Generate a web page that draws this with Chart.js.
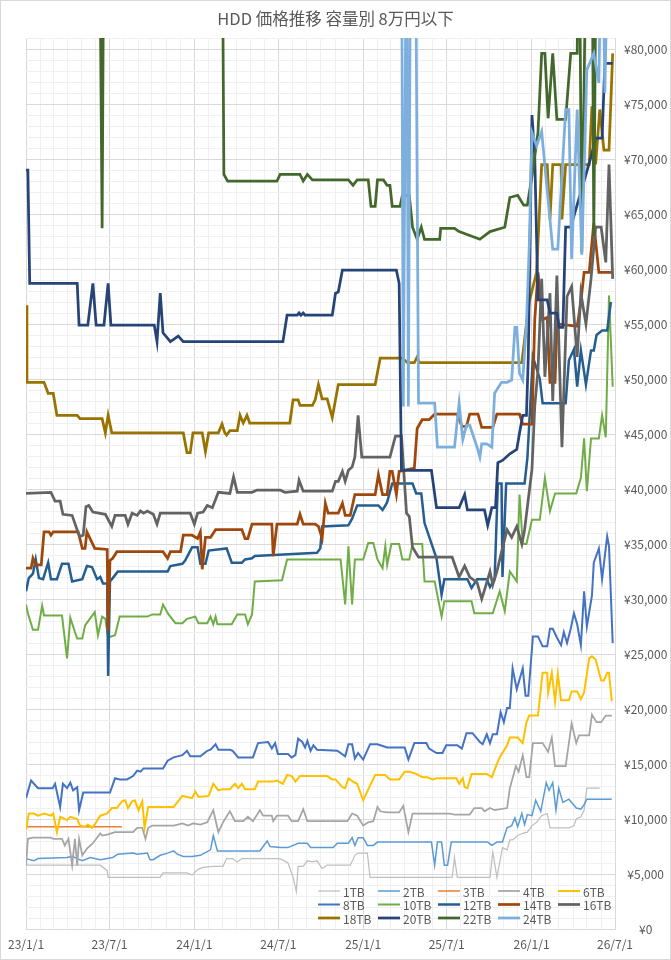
<!DOCTYPE html>
<html>
<head>
<meta charset="utf-8">
<script src="https://cdn.jsdelivr.net/npm/chart.js@4.4.1/dist/chart.umd.min.js"></script>
<style>
body{margin:0;background:#fff}
#wrap{width:671px;height:960px}
</style>
</head>
<body>
<div id="wrap"><canvas id="chart"></canvas></div>
<script>

/* DATA  [date, price in yen] */

const names=["1TB","2TB","3TB","4TB","6TB","8TB","10TB","12TB","14TB","16TB","18TB","20TB","22TB","24TB"]

const tb1=[["23/1/1",5800],["23/6/11",5800],["23/6/26",5300],["23/6/28",4700],["23/10/19",4700],["23/10/25",5100],["23/12/16",5100],["23/12/27",4900],["24/1/8",5400],["24/1/20",5600],["24/2/11",5700],["24/3/3",5700],["24/3/11",6400],["24/3/24",6400],["24/4/3",6100],["24/4/13",6400],["24/6/30",6400],["24/7/9",6300],["24/7/22",6000],["24/8/2",4700],["24/8/9",3400],["24/8/13",5700],["24/8/24",5700],["24/9/2",6200],["24/9/13",6100],["24/9/23",6200],["24/10/4",5500],["24/10/15",5800],["24/12/4",5800],["24/12/14",6700],["24/12/21",6900],["25/1/10",6900],["25/1/16",4700],["25/7/13",4700],["25/7/18",6500],["25/7/24",4700],["25/10/3",4700],["25/10/9",7000],["25/10/18",4700],["25/10/30",7400],["25/11/9",7200],["25/11/15",8100],["25/11/21",8100],["25/12/2",8500],["25/12/13",8700],["25/12/23",8800],["26/1/2",9400],["26/1/12",9700],["26/1/23",10300],["26/2/4",10500],["26/2/10",9200],["26/3/23",9200],["26/4/3",9400],["26/4/8",10000],["26/4/18",10200],["26/4/25",10800],["26/5/1",12800],["26/5/29",12800]]

const tb2=[["23/1/1",6400],["23/1/18",6200],["23/1/27",6400],["23/3/31",6500],["23/4/11",6600],["23/4/22",6400],["23/5/3",6200],["23/5/20",6500],["23/6/11",6300],["23/7/8",6500],["23/7/19",6800],["23/8/21",6900],["23/8/30",6800],["23/9/21",6900],["23/9/27",6300],["23/10/4",6300],["23/10/19",6700],["23/11/4",6900],["23/11/17",7100],["23/11/25",6800],["23/12/8",6600],["23/12/27",6600],["24/1/14",6700],["24/2/5",7200],["24/2/11",8500],["24/2/20",7100],["24/5/22",7100],["24/5/29",7500],["24/6/7",8000],["24/6/13",7500],["24/7/5",7400],["24/7/22",7400],["24/8/13",7800],["24/9/2",7800],["24/9/9",7400],["24/10/28",7400],["24/11/6",7800],["24/11/30",7800],["24/12/8",8300],["24/12/14",7600],["24/12/21",8300],["25/1/1",8300],["25/1/10",7600],["25/1/23",7600],["25/2/1",7900],["25/5/29",7900],["25/6/5",5800],["25/6/11",7900],["25/6/20",7900],["25/6/26",5800],["25/7/3",5800],["25/7/11",7900],["25/9/28",7900],["25/10/7",7600],["25/10/18",7900],["25/10/30",7900],["25/11/9",9200],["25/11/19",9400],["25/11/26",10100],["25/12/2",9300],["25/12/11",10500],["25/12/17",9500],["25/12/23",10400],["26/1/2",10300],["26/1/10",11700],["26/1/21",10700],["26/2/2",13300],["26/2/8",12600],["26/2/16",13300],["26/2/23",10800],["26/3/1",12800],["26/3/10",11500],["26/3/23",11800],["26/4/8",11000],["26/4/18",10900],["26/4/25",11300],["26/5/1",11800],["26/6/24",11800]]

const tb3=[["23/1/1",9300],["23/7/28",9300]]

const tb4=[["23/1/1",5800],["23/1/5",8200],["23/1/16",8300],["23/2/24",8300],["23/3/1",8200],["23/3/20",8200],["23/3/26",7600],["23/4/3",8200],["23/4/11",5800],["23/4/17",8200],["23/4/22",5800],["23/4/26",8200],["23/5/3",6700],["23/5/13",7300],["23/5/26",7800],["23/6/11",8700],["23/6/15",8500],["23/6/28",8600],["23/7/13",8800],["23/8/21",8800],["23/8/30",9200],["23/9/10",9200],["23/9/17",8200],["23/9/23",9200],["23/10/2",9400],["23/11/17",9400],["23/12/6",9600],["23/12/18",9400],["23/12/29",9600],["24/1/14",9500],["24/1/29",9700],["24/2/11",10800],["24/2/22",8800],["24/3/3",9700],["24/3/18",10700],["24/3/29",9800],["24/4/16",9800],["24/4/26",10200],["24/5/7",9800],["24/5/22",10800],["24/5/29",10300],["24/6/17",10300],["24/6/20",9800],["24/6/28",10300],["24/7/22",10300],["24/7/30",9800],["24/8/13",9800],["24/8/24",10900],["24/9/2",9800],["24/11/28",9800],["24/12/8",10500],["24/12/19",10300],["25/1/1",9400],["25/1/12",9700],["25/1/23",9800],["25/2/1",11100],["25/2/7",10700],["25/2/22",10600],["25/3/20",10600],["25/3/29",11200],["25/4/9",8800],["25/4/18",10500],["25/7/7",10500],["25/7/18",10400],["25/8/20",10400],["25/8/30",11000],["25/9/15",11000],["25/9/21",10700],["25/10/3",11000],["25/10/13",10800],["25/11/9",11000],["25/11/15",12800],["25/11/28",14800],["25/12/4",14300],["25/12/13",15800],["25/12/21",13800],["25/12/27",13800],["26/1/4",16900],["26/1/25",16900],["26/2/6",16100],["26/2/14",17400],["26/2/21",14800],["26/3/16",14800],["26/3/29",18700],["26/4/8",16900],["26/4/14",17600],["26/5/6",17600],["26/5/12",19500],["26/5/22",18800],["26/6/1",18800],["26/6/11",19400],["26/6/24",19400]]

const tb6=[["23/1/1",9000],["23/1/7",10500],["23/1/18",10500],["23/1/27",10300],["23/2/9",10500],["23/2/24",10300],["23/3/1",10500],["23/3/9",8800],["23/3/16",10200],["23/3/31",9900],["23/4/7",10200],["23/4/22",10000],["23/4/28",9400],["23/5/9",9300],["23/5/15",9500],["23/5/24",9200],["23/5/30",9500],["23/6/11",10300],["23/6/26",10500],["23/7/6",11000],["23/7/17",11000],["23/7/28",11600],["23/8/4",11700],["23/8/10",11000],["23/8/19",11600],["23/8/25",11700],["23/9/2",10800],["23/9/10",11600],["23/9/15",9200],["23/9/23",11100],["23/11/17",11100],["23/12/6",12100],["23/12/16",12000],["23/12/27",11900],["24/1/3",12500],["24/1/10",12000],["24/2/1",12100],["24/2/11",13200],["24/2/22",12600],["24/3/1",12700],["24/3/18",12700],["24/3/29",13200],["24/4/5",12800],["24/4/13",13200],["24/4/20",12700],["24/5/11",12700],["24/5/18",13400],["24/6/20",13400],["24/6/28",13500],["24/7/11",13200],["24/7/20",14000],["24/7/30",13900],["24/8/7",13400],["24/8/17",13900],["24/10/15",13900],["24/10/26",13600],["24/11/2",13600],["24/11/17",12900],["24/11/23",12800],["24/11/30",13700],["24/12/10",13400],["24/12/19",13200],["24/12/25",12500],["25/1/1",11700],["25/1/12",12700],["25/1/27",14000],["25/2/18",14000],["25/2/28",13600],["25/3/20",13600],["25/4/1",14300],["25/4/11",14300],["25/4/26",14100],["25/5/9",13800],["25/5/20",13800],["25/6/1",13600],["25/6/9",13700],["25/7/22",13700],["25/7/28",13200],["25/8/5",13700],["25/8/9",12900],["25/8/15",12800],["25/8/24",14100],["25/9/26",14100],["25/10/7",13800],["25/10/15",14700],["25/10/24",15600],["25/11/9",16700],["25/11/15",17400],["25/12/2",17400],["25/12/13",16900],["25/12/21",18800],["25/12/27",19400],["26/1/15",19400],["26/1/25",23300],["26/2/4",23300],["26/2/6",21500],["26/2/14",23300],["26/2/21",20700],["26/2/27",23200],["26/3/6",20800],["26/3/23",20800],["26/3/29",21600],["26/4/10",21600],["26/4/18",20900],["26/4/25",21500],["26/5/6",24600],["26/5/12",24800],["26/5/20",24500],["26/6/1",22600],["26/6/7",22600],["26/6/14",23300],["26/6/18",23300],["26/6/24",20700]]

const tb8=[["23/1/1",11900],["23/1/12",13500],["23/1/27",12800],["23/2/28",12800],["23/3/5",13200],["23/3/16",11100],["23/3/22",13200],["23/3/31",12800],["23/4/7",13300],["23/4/13",12600],["23/4/22",12900],["23/4/26",10800],["23/5/5",12400],["23/7/2",12400],["23/7/13",13700],["23/7/23",13600],["23/8/8",13600],["23/8/21",13900],["23/8/30",14400],["23/9/6",14300],["23/9/13",14600],["23/10/25",14600],["23/11/4",15300],["23/11/17",15600],["23/12/6",15800],["23/12/16",16200],["23/12/23",15700],["24/1/14",15700],["24/1/29",16200],["24/2/5",16300],["24/2/16",16800],["24/2/22",16300],["24/3/18",16300],["24/3/24",16200],["24/4/5",15600],["24/5/7",15600],["24/5/18",16900],["24/6/9",17000],["24/6/17",16400],["24/6/24",16900],["24/6/30",15900],["24/7/22",15900],["24/7/30",15600],["24/8/7",15800],["24/8/13",17300],["24/8/22",17000],["24/8/28",16500],["24/9/2",17100],["24/9/9",16200],["24/9/15",16700],["24/9/23",16300],["24/11/6",16200],["24/11/23",15700],["24/11/30",16800],["24/12/8",16800],["24/12/14",15500],["24/12/21",16000],["25/1/1",15400],["25/1/16",16800],["25/2/1",16800],["25/2/22",16500],["25/4/1",16500],["25/4/9",15400],["25/4/22",16900],["25/5/18",16900],["25/5/24",16400],["25/6/9",16000],["25/6/22",16000],["25/6/30",16700],["25/7/24",16700],["25/8/3",16400],["25/8/13",17800],["25/8/26",17800],["25/9/11",17000],["25/9/17",16800],["25/9/26",17700],["25/10/3",16900],["25/10/9",17700],["25/10/18",17700],["25/10/26",19700],["25/11/2",18800],["25/11/9",20100],["25/11/15",20100],["25/11/21",23700],["25/11/30",21800],["25/12/13",23700],["25/12/19",21200],["25/12/25",21200],["26/1/4",26600],["26/1/15",26600],["26/1/25",25700],["26/2/4",25700],["26/2/10",27300],["26/2/16",27300],["26/2/25",26500],["26/3/6",25800],["26/3/12",27000],["26/3/19",26000],["26/3/27",27300],["26/4/3",28700],["26/4/10",27700],["26/4/18",25800],["26/4/25",30700],["26/5/1",27500],["26/5/12",30300],["26/5/16",33300],["26/5/27",34600],["26/6/3",31800],["26/6/14",35700],["26/6/18",34800],["26/6/26",26000]]

const tb10=[["23/1/1",29500],["23/1/5",28700],["23/1/16",27200],["23/1/27",27200],["23/2/5",29400],["23/2/9",28500],["23/3/20",28500],["23/3/31",24600],["23/4/7",28300],["23/4/17",27000],["23/4/22",26400],["23/5/3",26400],["23/5/9",27600],["23/5/30",28800],["23/6/6",26700],["23/6/15",28400],["23/6/22",28200],["23/6/28",26500],["23/7/13",26700],["23/7/23",28400],["23/9/21",28400],["23/10/2",28600],["23/10/19",28600],["23/10/25",29500],["23/11/6",28600],["23/11/21",27800],["23/12/6",27800],["23/12/16",28200],["24/1/3",28400],["24/1/10",27800],["24/1/29",27800],["24/2/5",28400],["24/2/11",27700],["24/2/16",28400],["24/2/20",27700],["24/3/22",27700],["24/4/3",28600],["24/4/20",28600],["24/4/26",27700],["24/5/5",28600],["24/5/11",31600],["24/7/9",31700],["24/7/20",33600],["24/11/13",33600],["24/11/23",29500],["24/11/30",34800],["24/12/8",29500],["24/12/14",33600],["25/1/1",33600],["25/1/12",35100],["25/1/23",35100],["25/2/1",33600],["25/2/12",32800],["25/2/18",34800],["25/2/22",33100],["25/3/3",35000],["25/3/20",35000],["25/3/27",33600],["25/4/11",33600],["25/4/18",35000],["25/5/9",35000],["25/5/14",31600],["25/6/5",31600],["25/6/20",28400],["25/6/26",29800],["25/8/24",29800],["25/8/30",28700],["25/10/9",28700],["25/10/24",30700],["25/11/4",28900],["25/11/15",32500],["25/11/30",31600],["25/12/6",39500],["25/12/13",35000],["25/12/21",35000],["26/1/2",37200],["26/1/19",37200],["26/1/30",41000],["26/2/10",38000],["26/2/21",39600],["26/4/8",39600],["26/4/18",41000],["26/4/25",44600],["26/5/1",39800],["26/5/10",44600],["26/5/27",44600],["26/6/3",46700],["26/6/11",44700],["26/6/18",57600],["26/6/26",49300]]

const tb12=[["23/1/1",30700],["23/1/7",31900],["23/1/16",32300],["23/1/22",33600],["23/1/29",31900],["23/2/7",31800],["23/2/18",33300],["23/2/24",31800],["23/3/9",31800],["23/3/20",33200],["23/4/3",33200],["23/4/11",31600],["23/5/3",31800],["23/5/13",33000],["23/5/24",32900],["23/6/4",31800],["23/6/11",32000],["23/6/17",31400],["23/6/26",31400],["23/6/28",23000],["23/7/2",31600],["23/7/8",31900],["23/7/19",32500],["23/11/4",32500],["23/11/10",33000],["23/12/6",33200],["23/12/12",33500],["23/12/27",34700],["24/1/8",34700],["24/1/14",33200],["24/1/25",33200],["24/2/1",34400],["24/3/11",34600],["24/3/22",33300],["24/4/13",33300],["24/4/20",33600],["24/5/5",33700],["24/5/11",33900],["24/9/23",34200],["24/9/30",34600],["24/10/4",36600],["24/11/30",36700],["24/12/8",37300],["24/12/19",38500],["25/2/3",38500],["25/2/12",38100],["25/2/18",38500],["25/2/22",38800],["25/3/5",40500],["25/4/18",40500],["25/4/26",39600],["25/5/7",39600],["25/5/14",36900],["25/6/9",33700],["25/6/20",30400],["25/6/26",31800],["25/8/15",31800],["25/8/24",31000],["25/9/5",31800],["25/9/26",31800],["25/10/3",31100],["25/10/13",31800],["25/10/20",40500],["25/10/28",40500],["25/10/30",32000],["25/11/7",40500],["25/12/17",40500],["25/12/23",42800],["26/1/4",52000],["26/1/19",50000],["26/1/25",47800],["26/3/16",47800],["26/3/23",51700],["26/4/3",52700],["26/4/10",49300],["26/4/18",52600],["26/4/29",49500],["26/5/10",52600],["26/5/16",52600],["26/5/22",54000],["26/6/3",54400],["26/6/14",54400],["26/6/22",57000]]

const tb14=[["23/1/1",32800],["23/1/12",32800],["23/1/16",33700],["23/1/22",33100],["23/2/3",33100],["23/2/9",36100],["23/2/20",36100],["23/2/24",35800],["23/3/1",36100],["23/4/24",36100],["23/5/3",34600],["23/5/9",34600],["23/5/13",36100],["23/5/30",34600],["23/6/26",34500],["23/6/28",27100],["23/7/2",33500],["23/7/8",33700],["23/7/17",34300],["23/10/25",34300],["23/11/4",33700],["23/11/10",34300],["23/12/2",34300],["23/12/8",35800],["23/12/27",35800],["24/1/8",35500],["24/1/14",36100],["24/1/18",32700],["24/1/25",35600],["24/2/5",35600],["24/2/16",36300],["24/4/13",36300],["24/4/20",35500],["24/4/26",35500],["24/5/5",36800],["24/6/17",36800],["24/6/20",33900],["24/6/28",36800],["24/8/11",36800],["24/8/17",37700],["24/8/24",36800],["24/9/19",36800],["24/9/26",36600],["24/10/4",35500],["24/10/11",38700],["24/10/17",37800],["24/11/8",37800],["24/11/17",38700],["24/11/23",37600],["24/12/4",37600],["24/12/14",39500],["25/1/27",39500],["25/2/3",41300],["25/2/12",39500],["25/2/22",39500],["25/2/28",41600],["25/3/5",41600],["25/3/14",39500],["25/3/20",41600],["25/4/22",41900],["25/4/28",45500],["25/5/9",46300],["25/5/24",46300],["25/6/5",46800],["25/7/24",46800],["25/8/3",45700],["25/8/13",45700],["25/8/20",46800],["25/9/7",46800],["25/9/15",45600],["25/10/9",45600],["25/10/18",46800],["25/12/6",46800],["25/12/13",45900],["26/1/2",45900],["26/1/8",55400],["26/1/15",59700],["26/1/25",55400],["26/2/4",55600],["26/2/10",49700],["26/2/21",49700],["26/2/25",55000],["26/4/10",54800],["26/4/18",57000],["26/4/25",59700],["26/5/6",59700],["26/5/16",64200],["26/5/27",59700],["26/6/26",59700]]

const tb16=[["23/1/1",39600],["23/2/24",39700],["23/3/5",38900],["23/3/16",38900],["23/3/22",37700],["23/4/11",37600],["23/4/24",36000],["23/4/28",35700],["23/5/5",35800],["23/5/11",38400],["23/5/17",38500],["23/5/26",37900],["23/6/22",37700],["23/7/6",36600],["23/7/13",37600],["23/8/4",37600],["23/8/10",36800],["23/8/19",37800],["23/8/30",37600],["23/9/6",38000],["23/9/13",37800],["23/9/21",38000],["23/10/4",37700],["23/10/12",36800],["23/10/19",37800],["23/12/23",37800],["24/1/1",36800],["24/1/8",37800],["24/1/20",37900],["24/1/29",38500],["24/2/9",38300],["24/2/22",39700],["24/3/18",39600],["24/3/26",41100],["24/4/3",39700],["24/5/5",39700],["24/5/16",39900],["24/7/5",39900],["24/7/15",39700],["24/8/11",39800],["24/8/15",40800],["24/8/24",39800],["24/10/26",39800],["24/11/2",40700],["24/11/8",40700],["24/11/17",41600],["24/11/23",40700],["24/11/30",41700],["24/12/8",42000],["24/12/14",42900],["24/12/21",46700],["24/12/29",42900],["25/2/28",42900],["25/3/12",44800],["25/3/25",44800],["25/4/5",37800],["25/4/11",37500],["25/4/18",34700],["25/5/1",33800],["25/7/13",33800],["25/7/28",32000],["25/8/9",33000],["25/8/20",32000],["25/9/5",31500],["25/9/15",30000],["25/9/21",30800],["25/10/3",32500],["25/10/9",31300],["25/10/18",32500],["25/10/28",34300],["25/11/9",36300],["25/11/19",35600],["25/11/30",36600],["25/12/11",35000],["25/12/17",36300],["26/1/2",41800],["26/1/8",47500],["26/1/15",50800],["26/1/23",59100],["26/1/30",50200],["26/2/10",57800],["26/2/16",48000],["26/2/25",59400],["26/3/8",43800],["26/3/19",57500],["26/3/29",58400],["26/4/10",52000],["26/4/18",57800],["26/4/29",55000],["26/5/10",59100],["26/5/20",63800],["26/6/1",63800],["26/6/11",60600],["26/6/18",69500],["26/6/26",59100]]

const tb18=[["23/1/1",56700],["23/1/3",49700],["23/2/9",49700],["23/2/18",48700],["23/3/1",48700],["23/3/9",46700],["23/4/22",46700],["23/4/28",46400],["23/6/15",46400],["23/6/22",45100],["23/6/28",46700],["23/7/6",45100],["23/12/8",45100],["23/12/16",43300],["23/12/23",43300],["23/12/29",45100],["24/1/18",45100],["24/1/25",43400],["24/2/1",45100],["24/2/22",45100],["24/3/1",45900],["24/3/7",45100],["24/3/11",44900],["24/3/18",45300],["24/4/3",45300],["24/4/9",46700],["24/4/16",46000],["24/4/24",46700],["24/4/30",46000],["24/7/26",46000],["24/8/2",48100],["24/8/13",48100],["24/8/17",47600],["24/9/13",47600],["24/9/19",48100],["24/9/26",49500],["24/10/4",48200],["24/10/15",48200],["24/10/26",46500],["24/11/8",49500],["25/1/27",49500],["25/2/7",51900],["25/3/27",51900],["25/4/7",51500],["25/4/22",51500],["25/4/28",52000],["25/5/3",51500],["25/12/11",51500],["25/12/17",53600],["25/12/27",57000],["26/1/12",59700],["26/1/23",69500],["26/2/4",69500],["26/2/10",64500],["26/2/16",69500],["26/3/6",69500],["26/3/8",64500],["26/3/16",69500],["26/5/6",69500],["26/5/12",74800],["26/5/20",69500],["26/5/29",74500],["26/6/7",70800],["26/6/18",70800],["26/6/26",79600]]

const tb20=[["23/1/1",69000],["23/1/5",69000],["23/1/9",58700],["23/4/22",58700],["23/4/26",54900],["23/5/15",54900],["23/5/26",58700],["23/6/2",54900],["23/6/19",54900],["23/6/28",58700],["23/7/4",54900],["23/10/6",54900],["23/10/12",53400],["23/10/19",57800],["23/10/25",54200],["23/11/10",53400],["23/11/27",53900],["23/12/8",53400],["24/7/11",53400],["24/7/20",55800],["24/8/11",55800],["24/8/15",56000],["24/8/19",55800],["24/8/24",56000],["24/8/28",55800],["24/10/26",55800],["24/11/2",57800],["24/11/8",57900],["24/11/17",59900],["25/3/14",59900],["25/3/20",58700],["25/3/25",41700],["25/5/29",41700],["25/6/9",38300],["25/7/28",38300],["25/8/9",39500],["25/8/15",38100],["25/9/21",38100],["25/9/28",36700],["25/10/7",38300],["25/10/15",38300],["25/10/20",42400],["25/10/30",42600],["25/11/15",43200],["25/11/30",43600],["25/12/6",45100],["25/12/13",46700],["25/12/21",46700],["25/12/25",52000],["26/1/2",74000],["26/1/8",70200],["26/1/15",57200],["26/2/4",57200],["26/2/10",56000],["26/2/25",56000],["26/3/2",54700],["26/3/10",54700],["26/3/16",63800],["26/3/27",63800],["26/4/18",67000],["26/5/10",70200],["26/5/20",71900],["26/6/3",71900],["26/6/9",78700],["26/6/26",78700]]

const tb22=[["23/6/4",95000],["23/6/9",95000],["23/6/15",63700],["23/6/19",95000],["24/3/1",95000],["24/3/5",68600],["24/3/13",68000],["24/6/28",68000],["24/7/5",68600],["24/8/17",68600],["24/8/24",68000],["24/9/2",68600],["24/9/13",68100],["24/11/30",68100],["24/12/10",67600],["24/12/19",68100],["25/1/12",68100],["25/1/18",65700],["25/1/27",65700],["25/2/1",68100],["25/2/14",68100],["25/2/22",67600],["25/2/28",67600],["25/3/5",65700],["25/3/22",65700],["25/3/27",66700],["25/4/11",66700],["25/4/18",63800],["25/4/28",62700],["25/5/7",63800],["25/5/14",62700],["25/6/16",62700],["25/6/18",63700],["25/7/18",63700],["25/7/28",63400],["25/9/11",62700],["25/10/3",63400],["25/11/4",63800],["25/11/15",66500],["25/12/2",66700],["25/12/15",65800],["25/12/23",65800],["26/1/4",69000],["26/1/15",72400],["26/1/23",79600],["26/1/30",79600],["26/2/6",73700],["26/2/16",79600],["26/2/25",73600],["26/3/16",73600],["26/3/27",79600],["26/4/10",79600],["26/4/14",95000],["26/4/20",61500],["26/5/1",95000],["26/5/12",95000],["26/5/16",63000],["26/5/22",95000],["26/6/26",95000]]

const tb24=[["25/3/25",95000],["25/3/29",47500],["25/4/5",95000],["25/4/9",47500],["25/4/14",95000],["25/4/24",95000],["25/5/1",47800],["25/6/5",47800],["25/6/11",43800],["25/7/18",43800],["25/7/28",47800],["25/8/5",44500],["25/8/13",45800],["25/8/20",45800],["25/9/5",43800],["25/9/11",42900],["25/9/15",44100],["25/9/26",44100],["25/10/7",43800],["25/10/13",48700],["25/10/28",49700],["25/11/9",49700],["25/11/19",49900],["25/11/26",54700],["25/11/30",54700],["25/12/6",50500],["25/12/13",49900],["25/12/21",55000],["25/12/27",62000],["26/1/2",72400],["26/1/12",71200],["26/1/23",72500],["26/2/10",64500],["26/2/16",61800],["26/2/27",61800],["26/3/16",74500],["26/3/23",74500],["26/3/29",60900],["26/4/10",74500],["26/4/20",61300],["26/5/1",78100],["26/5/16",79600],["26/5/27",76900],["26/6/3",95000],["26/6/9",76000],["26/6/18",95000],["26/6/26",95000]]

const series=[tb1,tb2,tb3,tb4,tb6,tb8,tb10,tb12,tb14,tb16,tb18,tb20,tb22,tb24]

const colors=["#BFBFBF","#5B9BD5","#ED7D31","#A5A5A5","#FFC000","#4472C4","#70AD47","#255E91","#9E480E","#636363","#997300","#264478","#43682B","#7CAFDD"]
const widths=[1.25,1.5,1.5,1.75,2,2,2,2.5,2.75,2.75,2.75,2.75,2.75,2.75]

const title="HDD 価格推移 容量別 8万円以下"


/* HELPERS */

const start=Date.UTC(2023,0,1)

function day(s){
let p=s.split("/").map(Number)
return (Date.UTC(2000+p[0],p[1]-1,p[2])-start)/86400000
}

let monthDays=[]
for(let k=0;k<=42;k++){
monthDays.push((Date.UTC(2023,k,1)-start)/86400000)
}

function monthLabel(k){
return (23+Math.floor(k/12))+"/"+(k%12+1)+"/1"
}

const font="'Noto Sans CJK JP','Noto Sans',sans-serif"
Chart.defaults.font.family=font
Chart.defaults.color="#595959"


/* TITLE, LEGEND INSIDE PLOT, FRAME */

const legendBox={
id:"legendBox",
afterDatasetsDraw(chart){
const ctx=chart.ctx
ctx.save()
ctx.font="12px "+font
ctx.fillStyle="#595959"
ctx.textBaseline="middle"
chart.data.datasets.forEach((ds,i)=>{
let x=318+(i%5)*60
let y=891+Math.floor(i/5)*13.5
ctx.strokeStyle=ds.borderColor
ctx.lineWidth=ds.borderWidth
ctx.beginPath()
ctx.moveTo(x,y)
ctx.lineTo(x+22,y)
ctx.stroke()
ctx.fillText(ds.label,x+25,y+1)
})
ctx.restore()
}
}

const frame={
id:"frame",
beforeDraw(chart){
const ctx=chart.ctx
ctx.save()
ctx.fillStyle="#fff"
ctx.fillRect(0,0,chart.width,chart.height)
ctx.strokeStyle="#d9d9d9"
ctx.lineWidth=1
ctx.strokeRect(0.5,0.5,chart.width-1,chart.height-1)
ctx.restore()
},
afterDraw(chart){
const ctx=chart.ctx
ctx.save()
ctx.font="16.5px "+font
ctx.fillStyle="#595959"
ctx.textAlign="center"
ctx.textBaseline="middle"
ctx.fillText(title,chart.width/2,19)
ctx.restore()
}
}


/* CHART */

new Chart(document.getElementById("chart"),{

type:"line",

data:{
datasets:series.map((s,i)=>({
label:names[i],
data:s.map(p=>({x:day(p[0]),y:p[1]})),
borderColor:colors[i],
backgroundColor:colors[i],
borderWidth:widths[i],
pointRadius:0,
tension:0,
fill:false,
order:13-i
}))
},

options:{
responsive:true,
maintainAspectRatio:false,
animation:false,
devicePixelRatio:1,
events:[],
layout:{padding:{left:25,right:0,top:38,bottom:0}},

plugins:{
legend:{display:false},
tooltip:{enabled:false},
title:{display:false}
},

scales:{
x:{
type:"linear",
min:0,
max:monthDays[42],
afterBuildTicks:s=>{s.ticks=monthDays.map(v=>({value:v}))},
afterFit:s=>{s.height=31},
ticks:{
autoSkip:false,
maxRotation:0,
padding:8,
color:"#595959",
font:{size:12},
callback:(v,i)=>i%6==0?monthLabel(i):""
},
grid:{
drawTicks:false,
color:c=>c.index%6==0?"#d9d9d9":"#f0f0f0",
lineWidth:1
},
border:{color:"#d9d9d9"}
},

y:{
position:"right",
min:0,
max:81000,
afterBuildTicks:s=>{
s.ticks=[]
for(let v=0;v<=81000;v+=1000) s.ticks.push({value:v})
},
afterFit:s=>{s.width=56},
ticks:{
autoSkip:false,
padding:9,
crossAlign:"center",
color:"#595959",
font:{size:12},
callback:v=>v%5000==0?"¥"+v.toLocaleString("en-US"):""
},
grid:{
drawTicks:false,
color:c=>c.tick.value%5000==0?"#d9d9d9":"#f0f0f0",
lineWidth:1
},
border:{display:false}
}
}

},

plugins:[frame,legendBox]

})

</script>
</body>
</html>
